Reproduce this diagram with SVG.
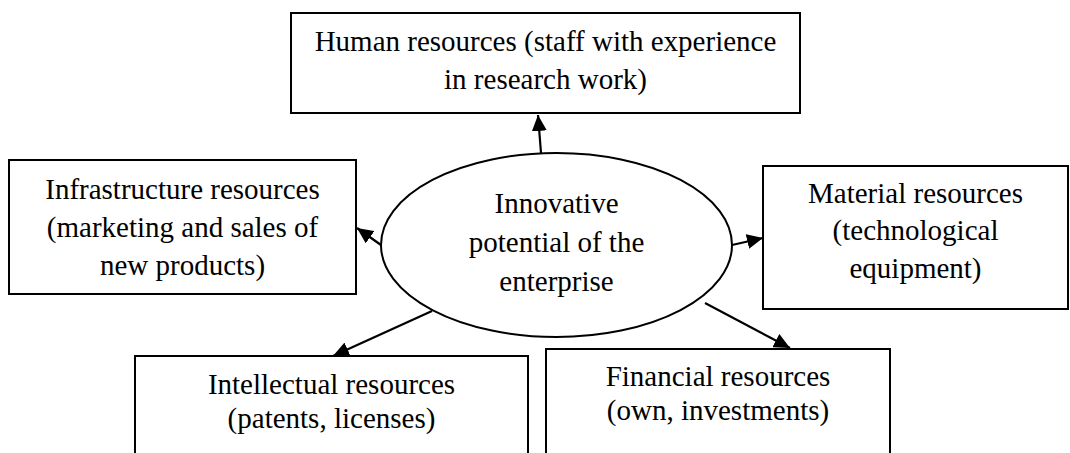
<svg xmlns="http://www.w3.org/2000/svg" width="1070" height="453" viewBox="0 0 1070 453">
<style>
  .box { fill: #fff; stroke: #000; stroke-width: 2; }
  .ell { fill: #fff; stroke: #000; stroke-width: 2; }
  .t { font-family: "Liberation Serif", "Times New Roman", serif; font-size: 29px; fill: #000; text-anchor: middle; }
  .c { stroke: #000; stroke-width: 2.2; fill: none; marker-end: url(#ah); }
</style>
<defs>
  <marker id="ah" markerUnits="userSpaceOnUse" markerWidth="17" markerHeight="15" refX="16" refY="7.5" orient="auto" viewBox="0 0 17 15">
    <path d="M0,0 L16,7.5 L0,15 z" fill="#000"/>
  </marker>
</defs>
<rect width="1070" height="453" fill="#fff"/>
<g id="human">
  <rect class="box" x="291" y="13" width="509" height="100"/>
  <text class="t" x="545.5" y="51">Human resources (staff with experience</text>
  <text class="t" x="545.5" y="89">in research work)</text>
</g>
<g id="infrastructure">
  <rect class="box" x="9" y="160" width="347" height="134"/>
  <text class="t" x="182.5" y="199">Infrastructure resources</text>
  <text class="t" x="182.5" y="237">(marketing and sales of</text>
  <text class="t" x="182.5" y="275">new products)</text>
</g>
<g id="material">
  <rect class="box" x="763" y="166" width="305" height="143"/>
  <text class="t" x="915.5" y="203">Material resources</text>
  <text class="t" x="915.5" y="240">(technological</text>
  <text class="t" x="915.5" y="278">equipment)</text>
</g>
<g id="intellectual">
  <rect class="box" x="135" y="356" width="393" height="110"/>
  <text class="t" x="331.5" y="394">Intellectual resources</text>
  <text class="t" x="331.5" y="428">(patents, licenses)</text>
</g>
<g id="financial">
  <rect class="box" x="546" y="349" width="344" height="110"/>
  <text class="t" x="718" y="386">Financial resources</text>
  <text class="t" x="718" y="420">(own, investments)</text>
</g>
<g id="center">
  <ellipse class="ell" cx="556.5" cy="245" rx="175.5" ry="92"/>
  <text class="t" x="556.5" y="213">Innovative</text>
  <text class="t" x="556.5" y="252">potential of the</text>
  <text class="t" x="556.5" y="291">enterprise</text>
</g>
<g id="connectors">
  <line class="c" x1="541" y1="153" x2="538" y2="115"/>
  <line class="c" x1="381" y1="245" x2="357" y2="228"/>
  <line class="c" x1="732" y1="245" x2="763" y2="238"/>
  <line class="c" x1="432" y1="311" x2="333" y2="356"/>
  <line class="c" x1="705" y1="303" x2="790" y2="348"/>
</g>
</svg>
